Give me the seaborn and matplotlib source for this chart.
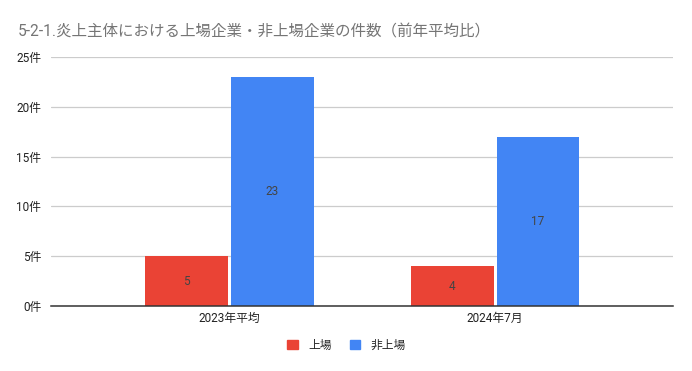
import pandas as pd
import matplotlib
matplotlib.use("Agg")
import matplotlib.pyplot as plt
from matplotlib.patches import Patch
import seaborn as sns

# data
categories = ["2023年平均", "2024年7月"]
series_names = ["上場", "非上場"]
listed = [5, 4]
unlisted = [23, 17]
y_ticks = [0, 5, 10, 15, 20, 25]

sns.set_theme(style="white")
plt.rcParams['font.family'] = ['Roboto', 'Noto Sans CJK JP', 'DejaVu Sans']

df = pd.DataFrame({
    "cat": categories * 2,
    "kind": [series_names[0]] * 2 + [series_names[1]] * 2,
    "val": listed + unlisted,
})

fig = plt.figure(figsize=(6.92, 3.71), dpi=100)
ax = fig.add_axes([0.0737, 0.1752, 0.8988, 0.6712])

sns.barplot(data=df, x="cat", y="val", hue="kind", ax=ax,
            palette=["#EA4335", "#4285F4"], width=0.645, gap=0.035,
            saturation=1, legend=False, linewidth=0)

for cont in ax.containers:
    ax.bar_label(cont, label_type="center", fontsize=8.5, color="#444444")

ax.set_xlim(-0.672, 1.670)
ax.set_ylim(0, 25)
ax.set_yticks(y_ticks)
ax.set_yticklabels([f"{v}件" for v in y_ticks])
ax.yaxis.grid(True, color="#cccccc", linewidth=0.9)
ax.set_axisbelow(True)
for s in ["left", "right", "top"]:
    ax.spines[s].set_visible(False)
ax.spines["bottom"].set_color("#333333")
ax.spines["bottom"].set_linewidth(1.1)
ax.tick_params(axis="y", length=0, labelsize=8.5, colors="#222222", pad=7)
ax.tick_params(axis="x", length=0, labelsize=8.5, colors="#222222", pad=4)
ax.set_xlabel("")
ax.set_ylabel("")

# legend
handles = [Patch(color="#EA4335", label=series_names[0]),
           Patch(color="#4285F4", label=series_names[1])]
fig.legend(handles=handles, loc="center", bbox_to_anchor=(0.501, 0.07), ncol=2,
           frameon=False, fontsize=8.5, handlelength=0.9, handleheight=0.9,
           columnspacing=1.5, handletextpad=0.9)

fig.text(0.026, 0.913, "5-2-1.炎上主体における上場企業・非上場企業の件数（前年平均比）",
         fontsize=11.2, color="#757575", va="center", ha="left")

fig.savefig("out.png", dpi=100)
